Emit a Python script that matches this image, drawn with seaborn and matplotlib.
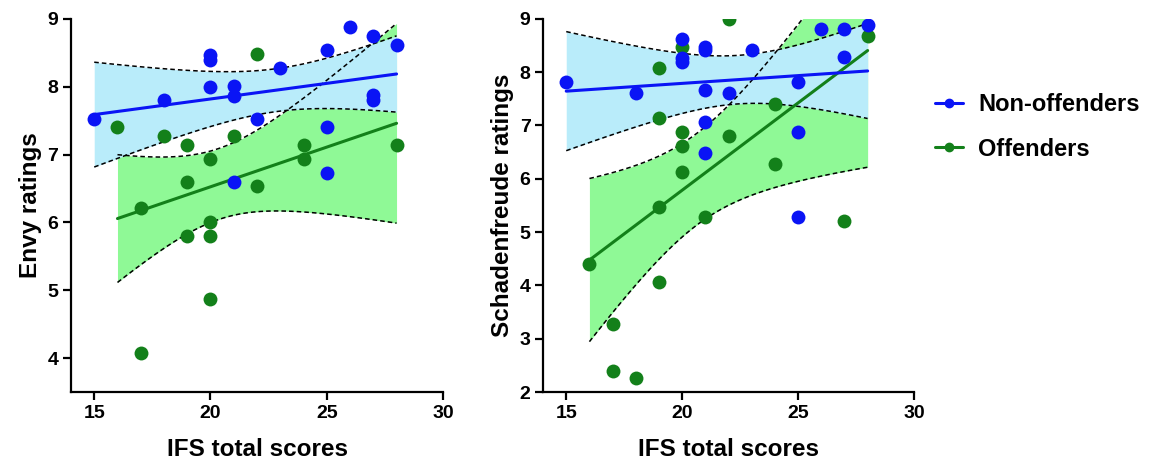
import numpy as np
import matplotlib
matplotlib.use('Agg')
import matplotlib.pyplot as plt
import seaborn as sns
from matplotlib.lines import Line2D

# значения
envy_non_x = [15, 18, 20, 20, 20, 21, 21, 21, 22, 23, 25, 25, 25, 26, 27, 27, 27, 28]
envy_non_y = [7.53, 7.81, 8.47, 8.40, 8.00, 8.01, 7.87, 6.60, 7.53, 8.27, 8.54, 7.40, 6.73, 8.88, 8.75, 7.88, 7.81, 8.61]
envy_off_x = [16, 17, 17, 18, 19, 19, 19, 20, 20, 20, 20, 21, 22, 22, 24, 24, 28]
envy_off_y = [7.40, 6.21, 4.07, 7.27, 7.14, 6.60, 5.80, 6.94, 6.01, 5.80, 4.87, 7.27, 8.48, 6.54, 7.14, 6.94, 7.14]

sch_non_x = [15, 18, 20, 20, 20, 21, 21, 21, 21, 21, 22, 23, 25, 25, 25, 26, 27, 27, 28]
sch_non_y = [7.81, 7.60, 8.62, 8.26, 8.19, 8.48, 8.41, 7.67, 7.06, 6.48, 7.60, 8.42, 7.81, 6.87, 5.28, 8.81, 8.81, 8.28, 8.88]
sch_off_x = [16, 17, 17, 18, 19, 19, 19, 19, 20, 20, 20, 20, 21, 22, 22, 24, 24, 27, 28]
sch_off_y = [4.40, 3.28, 2.40, 2.26, 8.08, 7.14, 5.47, 4.06, 8.48, 6.88, 6.61, 6.13, 5.28, 9.00, 6.81, 7.40, 6.28, 5.21, 8.68]

group_labels = ['Non-offenders', 'Offenders']
x_ticks = [15, 20, 25, 30]

BLUE = '#0a14f5'
GREEN = '#13801a'
BLUE_FILL = '#b9ecfa'
GREEN_FILL = '#8ff996'


def conf_band(x, y, n_pts=120):
    # линейная регрессия + 95% доверительная полоса
    x = np.asarray(x, float)
    y = np.asarray(y, float)
    slope, icpt = np.polyfit(x, y, 1)
    n = len(x)
    resid = y - (slope * x + icpt)
    s = np.sqrt((resid ** 2).sum() / (n - 2))
    try:
        from scipy import stats
        t = stats.t.ppf(0.975, n - 2)
    except ImportError:
        t = 2.12
    xs = np.linspace(x.min(), x.max(), n_pts)
    yh = slope * xs + icpt
    sxx = ((x - x.mean()) ** 2).sum()
    half = t * s * np.sqrt(1.0 / n + (xs - x.mean()) ** 2 / sxx)
    return xs, yh - half, yh + half


def panel(ax, non_x, non_y, off_x, off_y, ylabel, ylim, yticks):
    for (gx, gy, fill, z) in [(off_x, off_y, GREEN_FILL, 1),
                              (non_x, non_y, BLUE_FILL, 1.5)]:
        xs, lo, hi = conf_band(gx, gy)
        ax.fill_between(xs, lo, hi, color=fill, lw=0, zorder=z)
    for (gx, gy) in [(off_x, off_y), (non_x, non_y)]:
        xs, lo, hi = conf_band(gx, gy)
        ax.plot(xs, lo, color='black', lw=1.1, dashes=(3, 2), zorder=3)
        ax.plot(xs, hi, color='black', lw=1.1, dashes=(3, 2), zorder=3)
    for (gx, gy, col) in [(off_x, off_y, GREEN), (non_x, non_y, BLUE)]:
        sns.regplot(x=gx, y=gy, ci=None, color=col, ax=ax, truncate=True,
                    scatter_kws=dict(s=100, linewidths=0, alpha=1, zorder=5),
                    line_kws=dict(lw=2.2, zorder=4))
    ax.set_xlim(14, 30)
    ax.set_ylim(*ylim)
    ax.set_xticks(x_ticks)
    ax.set_yticks(yticks)
    ax.set_xlabel('IFS total scores', fontsize=17.5, fontweight='bold',
                  labelpad=12, color='black')
    ax.set_ylabel(ylabel, fontsize=17.5, fontweight='bold', labelpad=4,
                  color='black')
    ax.tick_params(direction='out', length=6, width=1.6, labelsize=14, pad=3,
                   colors='black')
    for lab in ax.get_xticklabels() + ax.get_yticklabels():
        lab.set_fontweight('bold')
    sns.despine(ax=ax)
    for sp in ['left', 'bottom']:
        ax.spines[sp].set_linewidth(1.6)
        ax.spines[sp].set_color('black')


sns.set_style('ticks')
plt.rcParams['font.family'] = ['Liberation Sans', 'DejaVu Sans']

fig = plt.figure(figsize=(11.52, 4.63), dpi=100)
ax1 = fig.add_axes([0.0616, 0.1533, 0.323, 0.806])
ax2 = fig.add_axes([0.4714, 0.1533, 0.322, 0.806])

panel(ax1, envy_non_x, envy_non_y, envy_off_x, envy_off_y,
      'Envy ratings', (3.5, 9), [4, 5, 6, 7, 8, 9])
panel(ax2, sch_non_x, sch_non_y, sch_off_x, sch_off_y,
      'Schadenfreude ratings', (2, 9), [2, 3, 4, 5, 6, 7, 8, 9])

handles = [Line2D([], [], color=BLUE, lw=2.2, marker='o', markersize=6),
           Line2D([], [], color=GREEN, lw=2.2, marker='o', markersize=6)]
leg = fig.legend(handles, group_labels, loc='upper left',
                 bbox_to_anchor=(0.793, 0.844), frameon=False,
                 handlelength=1.2, handletextpad=0.65, labelspacing=0.9,
                 prop=dict(size=17, weight='bold'))
for txt in leg.get_texts():
    txt.set_color('black')

fig.savefig('out.png', dpi=100)
plt.close(fig)
